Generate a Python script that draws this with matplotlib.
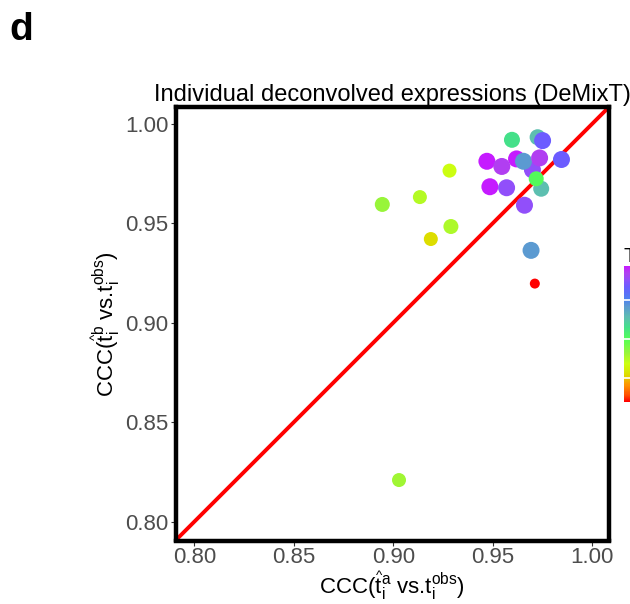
import matplotlib
matplotlib.use('Agg')
import matplotlib.pyplot as plt
from matplotlib.colors import LinearSegmentedColormap, Normalize
import numpy as np

# ---- data ----
ccc_a = [0.9620, 0.9700, 0.9655, 0.9744, 0.9719, 0.9597, 0.9726, 0.9751,
         0.9471, 0.9546, 0.9736, 0.9846, 0.9486, 0.9570, 0.9660,
         0.9283, 0.9134, 0.8945, 0.9290, 0.9189, 0.9693, 0.9712, 0.9029]
ccc_b = [0.9824, 0.9769, 0.9812, 0.9674, 0.9724, 0.9920, 0.9933, 0.9916,
         0.9812, 0.9786, 0.9829, 0.9821, 0.9684, 0.9679, 0.9591,
         0.9765, 0.9632, 0.9595, 0.9484, 0.9421, 0.9364, 0.9197, 0.8209]
color_value = [1.00, 0.90, 0.70, 0.62, 0.47, 0.55, 0.62, 0.85,
               1.00, 0.95, 0.95, 0.85, 1.00, 0.90, 0.90,
               0.28, 0.32, 0.36, 0.33, 0.20, 0.70, 0.00, 0.35]
point_diam_px = [17, 17, 17, 16, 15, 16, 16, 17,
                 17, 17, 17, 17, 17, 17, 17,
                 14, 14, 15, 15, 14, 17, 10, 14]

x_ticks = [0.80, 0.85, 0.90, 0.95, 1.00]
y_ticks = [0.80, 0.85, 0.90, 0.95, 1.00]
axis_lim = (0.7905, 1.0085)

# ---- style ----
plt.rcParams['font.family'] = ['Liberation Sans', 'DejaVu Sans']
plt.rcParams['mathtext.fontset'] = 'custom'
plt.rcParams['mathtext.rm'] = 'Liberation Sans'
plt.rcParams['mathtext.it'] = 'Liberation Sans:italic'
plt.rcParams['mathtext.bf'] = 'Liberation Sans:bold'

cmap = LinearSegmentedColormap.from_list('rb', [
    (0.00, '#FF0000'), (0.05, '#FF5000'), (0.12, '#FF9000'),
    (0.20, '#DDDD00'), (0.28, '#CCFF11'), (0.36, '#99F53A'),
    (0.46, '#55FF55'), (0.55, '#44E08A'), (0.62, '#5DBFB0'),
    (0.70, '#5B9BD0'), (0.76, '#4C7FF0'), (0.85, '#6B5CFF'),
    (0.90, '#9050FA'), (0.95, '#B040F0'), (1.00, '#C51BFF')])

W, H = 630, 604
fig = plt.figure(figsize=(W / 100, H / 100), dpi=100)
L, R, T, B = 175.5, 609, 107, 540.5
ax = fig.add_axes([L / W, 1 - B / H, (R - L) / W, (B - T) / H])

ax.axline((0.8, 0.8), slope=1, color='red', lw=2.8, zorder=1)
sizes = (np.array(point_diam_px) * 0.72) ** 2
sc = ax.scatter(ccc_a, ccc_b, c=color_value, s=sizes, cmap=cmap,
                norm=Normalize(0, 1), edgecolors='none', zorder=2)

ax.set_xlim(*axis_lim)
ax.set_ylim(*axis_lim)
ax.set_xticks(x_ticks)
ax.set_yticks(y_ticks)
ax.set_xticklabels([f'{v:.2f}' for v in x_ticks])
ax.set_yticklabels([f'{v:.2f}' for v in y_ticks])
ax.tick_params(length=3.5, width=0.8, color='#333333', labelcolor='#4D4D4D',
               labelsize=16)
ax.tick_params(axis='x', pad=1.5)
ax.tick_params(axis='y', pad=1.8)
for s in ax.spines.values():
    s.set_linewidth(3.2)
    s.set_color('black')

ax.set_title('Individual deconvolved expressions (DeMixT)', fontsize=17,
             color='black', pad=4)
ax.set_xlabel(r'CCC($\widehat{\mathrm{t}}_\mathrm{i}^\mathrm{a}$ vs.$\mathrm{t}_\mathrm{i}^\mathrm{obs}$)',
              fontsize=16, labelpad=1)
ax.set_ylabel(r'CCC($\widehat{\mathrm{t}}_\mathrm{i}^\mathrm{b}$ vs.$\mathrm{t}_\mathrm{i}^\mathrm{obs}$)',
              fontsize=16, labelpad=2)

# colorbar (cropped at the right edge, as in the reference)
cax = fig.add_axes([624 / W, 1 - 402 / H, 20 / W, 136 / H])
cb = fig.colorbar(sc, cax=cax)
cb.outline.set_visible(False)
cb.set_ticks([0.176, 0.463, 0.75])
cax.tick_params(direction='in', color='white', length=4, width=1.2,
                left=True, right=True, labelright=False, labelleft=False)
fig.text(623.5 / W, 1 - 247.5 / H, 'T', fontsize=15, ha='left', va='top')

fig.text(9.5 / W, 1 - 40 / H, 'd', fontsize=28, fontweight='bold',
         ha='left', va='baseline')

fig.savefig('out.png', dpi=100)
